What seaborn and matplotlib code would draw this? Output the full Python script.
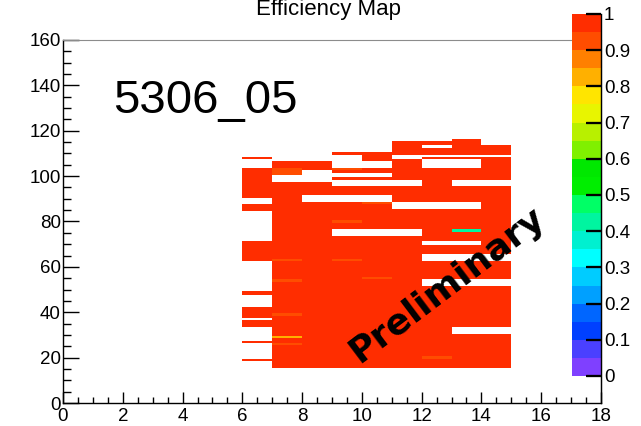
import numpy as np
import matplotlib
matplotlib.use("Agg")
import matplotlib.pyplot as plt
from matplotlib.colors import ListedColormap
from matplotlib.lines import Line2D
from matplotlib.ticker import MultipleLocator
import seaborn as sns

# ---- efficiency map data -------------------------------------------------
# chamber columns (x bin, left edge) and the strip runs that are populated
x_columns = [6, 7, 8, 9, 10, 11, 12, 13, 14]
strip_runs = {
    6:  [(19, 19), (27, 27), (34, 36), (38, 42), (48, 49), (63, 71),
         (85, 87), (91, 103), (108, 108)],
    7:  [(16, 97), (101, 106)],
    8:  [(16, 88), (92, 97), (103, 106)],
    9:  [(16, 73), (77, 88), (92, 95), (99, 99), (102, 103), (110, 110)],
    10: [(16, 73), (77, 88), (92, 95), (99, 99), (102, 103), (107, 110)],
    11: [(16, 73), (77, 85), (89, 95), (99, 107), (110, 115)],
    12: [(16, 51), (55, 62), (66, 69), (72, 85), (89, 103), (108, 108),
         (110, 112), (114, 115)],
    13: [(16, 30), (34, 51), (55, 62), (66, 69), (72, 85), (89, 95),
         (99, 103), (108, 108), (110, 116)],
    14: [(16, 30), (34, 51), (55, 62), (66, 95), (99, 108), (110, 113)],
}
# strips whose efficiency is below 1: (column, strip, efficiency)
low_strips = [
    (7, 101, 0.93), (7, 102, 0.93), (7, 103, 0.93),
    (7, 63, 0.93), (7, 54, 0.93), (7, 39, 0.93), (7, 29, 0.84), (7, 26, 0.93),
    (9, 103, 0.93), (9, 80, 0.93), (9, 63, 0.93),
    (10, 88, 0.93), (10, 55, 0.93),
    (12, 20, 0.93),
    (13, 76, 0.42),
]

# 20-level rainbow palette, from 0 up to 1
palette_colors = [
    "#7f40ff", "#4a40ff", "#0040ff", "#0066ff", "#00a0ff",
    "#00ccff", "#00ffff", "#00f0d0", "#00f5a0", "#00ff66",
    "#00ee00", "#00e800", "#80f000", "#b8f000", "#e8f500",
    "#ffe500", "#ffb000", "#ff8000", "#ff4d00", "#ff2d00",
]
z_ticks = [0, 0.1, 0.2, 0.3, 0.4, 0.5, 0.6, 0.7, 0.8, 0.9, 1]
z_tick_labels = ["0", "0.1", "0.2", "0.3", "0.4", "0.5", "0.6", "0.7",
                 "0.8", "0.9", "1"]
x_tick_values = list(range(0, 19, 2))
y_tick_values = list(range(0, 161, 20))

# ---- long-form table of filled bins ------------------------------------
eff = {}
for col in x_columns:
    for lo, hi in strip_runs[col]:
        for s in range(lo, hi + 1):
            eff[(col, s)] = 1.0
for col, s, e in low_strips:
    eff[(col, s)] = e
xs = np.array([k[0] + 0.5 for k in eff])
ys = np.array([float(k[1]) for k in eff])
ws = np.array(list(eff.values()))

x_edges = np.arange(0, 19, 1.0)
y_edges = np.arange(-0.5, 160.5, 1.0)

# ---- figure -----------------------------------------------------------
W, H = 641, 426
fig = plt.figure(figsize=(W / 100, H / 100), dpi=100)
fig.patch.set_facecolor("white")
ax = fig.add_axes([63 / W, (H - 403) / H, (601 - 63) / W, (403 - 40) / H])
cax = fig.add_axes([572 / W, (H - 376) / H, 29 / W, 362 / H])

cmap = ListedColormap(palette_colors)
sns.histplot(x=xs, y=ys, weights=ws, bins=[x_edges, y_edges], cmap=cmap,
             vmin=0, vmax=1, cbar=True, cbar_ax=cax,
             cbar_kws={"ticks": z_ticks}, ax=ax, linewidth=0)

tick_font = "Liberation Sans"
tick_size = 13.5
ax.set_xlim(0, 18)
ax.set_ylim(0, 160)
ax.set_xlabel("")
ax.set_ylabel("")
ax.set_xticks(x_tick_values)
ax.set_xticklabels([str(v) for v in x_tick_values], fontfamily=tick_font,
                   fontsize=tick_size)
ax.set_yticks(y_tick_values)
ax.set_yticklabels([str(v) for v in y_tick_values], fontfamily=tick_font,
                   fontsize=tick_size)
ax.xaxis.set_minor_locator(MultipleLocator(0.5))
ax.yaxis.set_minor_locator(MultipleLocator(5))
ax.tick_params(axis="x", which="major", direction="in", length=8, width=1,
               pad=3.5, top=False)
ax.tick_params(axis="x", which="minor", direction="in", length=4, width=1,
               top=False)
ax.tick_params(axis="y", which="major", direction="in", length=11.5, width=1,
               pad=1.5, right=False)
ax.tick_params(axis="y", which="minor", direction="in", length=5.8, width=1,
               right=False)
for side in ("left", "bottom"):
    ax.spines[side].set_color("black")
    ax.spines[side].set_linewidth(1)
ax.spines["top"].set_color("#8c8c8c")
ax.spines["right"].set_color("#404040")
ax.set_facecolor("white")

# palette axis
cbar = ax.collections[0].colorbar
cbar.outline.set_visible(False)
cbar.set_ticks(z_ticks)
cbar.set_ticklabels(z_tick_labels)
cbar.ax.minorticks_off()
cbar.ax.set_axisbelow(False)
cbar.ax.yaxis.set_ticks_position("right")
cbar.ax.tick_params(axis="y", which="major", direction="in", length=10,
                    width=1.5, pad=2, color="black", labelcolor="black",
                    labelsize=tick_size)
for lab in cbar.ax.get_yticklabels():
    lab.set_fontfamily(tick_font)
# inward tick marks of the palette axis, drawn across the colour boxes
cbar.ax.hlines(z_ticks, 0.48, 1.0, transform=cbar.ax.get_yaxis_transform(),
               colors="black", linewidth=1.6, zorder=6, clip_on=False)
# palette axis line, running down to the frame bottom
fig.add_artist(Line2D([601 / W, 601 / W], [(H - 14) / H, (H - 403) / H],
                      transform=fig.transFigure, color="black", lw=1))

# texts
fig.text(328 / W, 1 - 15 / H, "Efficiency Map", ha="center",
         va="baseline", fontfamily=tick_font, fontsize=16)
ax.text(1.67, 127.8, "5306_05", ha="left", va="baseline",
        fontfamily="Liberation Sans", fontsize=34)
ax.text(12.85, 52, "Preliminary", ha="center", va="center", rotation=37,
        rotation_mode="anchor", fontfamily="DejaVu Sans",
        fontweight="bold", fontsize=26)

fig.savefig("out.png", dpi=100)
